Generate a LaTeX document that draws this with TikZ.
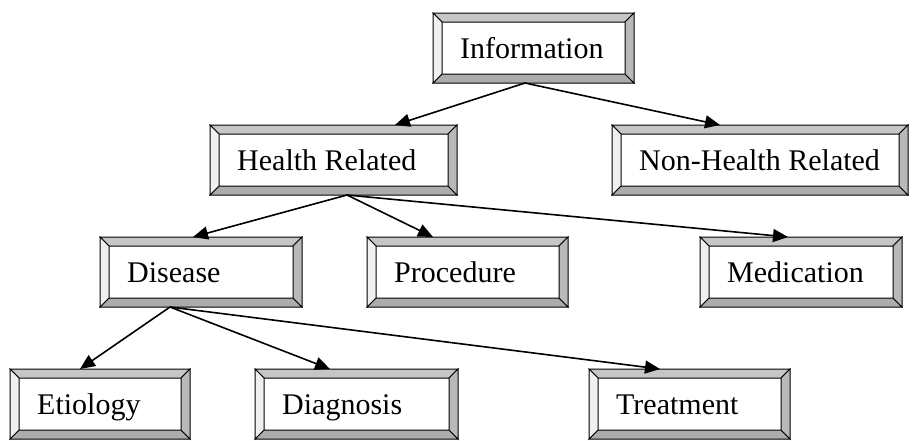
\documentclass[tikz,border=0pt]{standalone}
\usepackage{fontspec}
\setmainfont{Liberation Serif}
\usetikzlibrary{calc,arrows.meta}
\tikzset{
  boxframe/.style={draw=black, line width=1pt},
  bevtop/.style={boxframe, fill=gray!45},
  bevleft/.style={boxframe, fill=gray!12},
  bevright/.style={boxframe, fill=gray!55},
  bevbot/.style={boxframe, fill=gray!65},
  boxlabel/.style={anchor=base west, inner sep=0pt, font=\fontsize{30}{36}\selectfont},
  link/.style={draw=black, line width=1.6pt, -{Triangle[length=15pt,width=13pt]}}
}
\newcommand\bevbox[6]{%
  \node[minimum width=#4pt, minimum height=#5pt, inner sep=0pt, outer sep=0pt, anchor=north west] (#1) at (#2,#3) {};
  \fill[white] (#1.north west) rectangle (#1.south east);
  \draw[bevtop] (#1.north west) -- (#1.north east) -- ($(#1.north east)+(-9,9)$) -- ($(#1.north west)+(9,9)$) -- cycle;
  \draw[bevbot] (#1.south west) -- (#1.south east) -- ($(#1.south east)+(-9,-9)$) -- ($(#1.south west)+(9,-9)$) -- cycle;
  \draw[bevleft] (#1.north west) -- ($(#1.north west)+(9,9)$) -- ($(#1.south west)+(9,-9)$) -- (#1.south west) -- cycle;
  \draw[bevright] (#1.north east) -- ($(#1.north east)+(-9,9)$) -- ($(#1.south east)+(-9,-9)$) -- (#1.south east) -- cycle;
  \node[boxlabel] (#1-text) at ($(#1.north west)+(27,45)$) {#6};
}
\begin{document}
\begin{tikzpicture}[x=1pt,y=-1pt]
\useasboundingbox[fill=white] (0,0) rectangle (914,440);
\bevbox{info}{433}{13}{201}{70}{Information}
\bevbox{health}{210}{125}{247}{70}{Health Related}
\bevbox{nonhealth}{612}{125}{296}{70}{Non-Health Related}
\bevbox{disease}{100}{237}{202}{70}{Disease}
\bevbox{procedure}{367}{237}{201}{70}{Procedure}
\bevbox{medication}{700}{237}{202}{70}{Medication}
\bevbox{etiology}{10}{369}{180}{70}{Etiology}
\bevbox{diagnosis}{255}{369}{203}{70}{Diagnosis}
\bevbox{treatment}{589}{369}{201}{70}{Treatment}

\coordinate (infoout) at ($(info.south west)+(92,0)$);
\coordinate (healthout) at ($(health.south west)+(137,0)$);
\coordinate (diseaseout) at ($(disease.south west)+(70,0)$);

\draw[link] (infoout) -- ($(health.north west)+(185,0)$);
\draw[link] (infoout) -- ($(nonhealth.north west)+(108,0)$);
\draw[link] (healthout) -- ($(disease.north west)+(93,0)$);
\draw[link] (healthout) -- ($(procedure.north west)+(66,0)$);
\draw[link] (healthout) -- ($(medication.north west)+(88,0)$);
\draw[link] (diseaseout) -- ($(etiology.north west)+(70,0)$);
\draw[link] (diseaseout) -- ($(diagnosis.north west)+(75,0)$);
\draw[link] (diseaseout) -- ($(treatment.north west)+(71,0)$);
\end{tikzpicture}
\end{document}
